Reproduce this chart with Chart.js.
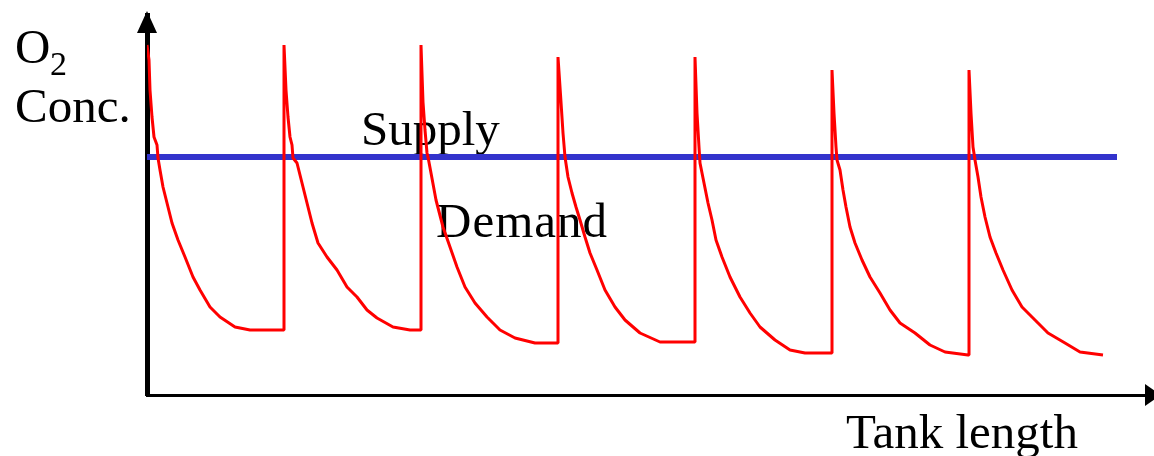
<!DOCTYPE html>
<html>
<head>
<meta charset="utf-8">
<script src="https://cdn.jsdelivr.net/npm/chart.js@4.4.1/dist/chart.umd.min.js"></script>
<style>
  body { margin: 0; background: #fff; }
  #wrap { width: 1154px; height: 456px; }
</style>
</head>
<body>
<div id="wrap"><canvas id="chart1"></canvas></div>
<script>
// tank length (x) and O2 concentration (y)
var demandX = [
    0, 2, 3, 5, 7, 10, 11, 13, 16, 20, 25, 31, 38, 46, 53, 63, 73, 88, 103, 136,
    137, 137, 139, 141, 143, 145, 146, 150, 155, 160, 165, 171, 180, 190, 200, 210, 220, 230, 246, 263, 273,
    274, 274, 276, 278, 280, 281, 284, 289, 296, 303, 310, 318, 328, 340, 353, 368, 388, 410,
    411, 411, 414, 416, 418, 421, 425, 429, 433, 438, 443, 450, 458, 468, 478, 493, 513, 547,
    548, 548, 550, 552, 553, 557, 561, 565, 569, 575, 583, 593, 603, 613, 628, 643, 658, 684,
    685, 685, 687, 689, 690, 693, 696, 699, 703, 708, 715, 723, 733, 743, 753, 768, 783, 798, 821,
    822, 822, 824, 826, 828, 831, 834, 838, 843, 849, 856, 865, 875, 888, 901, 918, 933, 956
];
var demandY = [
    350, 335, 305, 278, 258, 250, 237, 225, 208, 192, 172, 155, 138, 118, 105, 88, 78, 68, 65, 65,
    65, 350, 305, 278, 258, 250, 237, 232, 212, 192, 172, 152, 138, 125, 108, 98, 85, 77, 68, 65, 65,
    65, 350, 293, 265, 242, 238, 222, 195, 168, 148, 128, 108, 92, 78, 65, 57, 52, 52,
    52, 338, 293, 262, 238, 218, 202, 188, 175, 158, 142, 125, 105, 88, 75, 62, 53, 53,
    53, 338, 282, 248, 232, 212, 192, 175, 155, 138, 118, 98, 82, 68, 55, 45, 42, 42,
    42, 325, 282, 248, 235, 225, 205, 188, 168, 152, 135, 118, 102, 85, 72, 62, 50, 43, 40,
    40, 325, 282, 248, 235, 218, 198, 178, 158, 142, 125, 105, 88, 75, 62, 52, 43, 40
];
var supplyX = [0, 970];
var supplyY = [238, 238];

function toPoints(xs, ys) {
    return xs.map(function (x, i) { return { x: x, y: ys[i] }; });
}

var serif = "'Liberation Serif', 'Times New Roman', serif";

// labels and axis arrows
var decor = {
    id: 'decor',
    beforeDatasetsDraw: function (chart) {
        var ctx = chart.ctx;
        ctx.save();
        ctx.fillStyle = '#000';
        ctx.textBaseline = 'alphabetic';
        ctx.textAlign = 'left';
        ctx.font = '49px ' + serif;
        ctx.fillText('O', 15, 63);
        ctx.fillText('Conc.', 15, 122);
        ctx.fillText('Supply', 361, 145);
        ctx.fillText('Tank length', 846, 448);
        ctx.letterSpacing = '1px';
        ctx.fillText('Demand', 436, 237);
        ctx.letterSpacing = '0px';
        ctx.font = '34px ' + serif;
        ctx.fillText('2', 50, 75);
        ctx.restore();
    },
    afterDraw: function (chart) {
        var ctx = chart.ctx;
        var a = chart.chartArea;
        ctx.save();
        ctx.fillStyle = '#000';
        ctx.beginPath();
        ctx.moveTo(a.left - 10, a.top + 18);
        ctx.lineTo(a.left, a.top - 4);
        ctx.lineTo(a.left + 10, a.top + 18);
        ctx.closePath();
        ctx.fill();
        ctx.beginPath();
        ctx.moveTo(a.right - 2, a.bottom - 11);
        ctx.lineTo(a.right + 14, a.bottom);
        ctx.lineTo(a.right - 2, a.bottom + 11);
        ctx.closePath();
        ctx.fill();
        ctx.restore();
    }
};

var chart1 = document.getElementById('chart1').getContext('2d');
var myChart1 = new Chart(chart1, {
    type: 'line',
    data: {
        datasets: [{
            label: 'Demand',
            data: toPoints(demandX, demandY),
            borderColor: 'rgb(255, 0, 0)',
            borderWidth: 3,
            borderJoinStyle: 'bevel',
            pointRadius: 0,
            tension: 0,
            fill: false,
            order: 1
        }, {
            label: 'Supply',
            data: toPoints(supplyX, supplyY),
            borderColor: 'rgb(51, 51, 204)',
            borderWidth: 6,
            borderCapStyle: 'butt',
            pointRadius: 0,
            tension: 0,
            fill: false,
            order: 2
        }]
    },
    options: {
        responsive: true,
        maintainAspectRatio: false,
        animation: false,
        layout: {
            padding: { left: 147, right: 7, top: 15, bottom: 61 }
        },
        plugins: {
            legend: { display: false },
            tooltip: { enabled: false }
        },
        scales: {
            x: {
                type: 'linear',
                min: 0,
                max: 1000,
                grid: { display: false, drawTicks: false },
                ticks: { display: false },
                border: { display: true, color: '#000', width: 3 }
            },
            y: {
                type: 'linear',
                min: 0,
                max: 380,
                grid: { display: false, drawTicks: false },
                ticks: { display: false },
                border: { display: true, color: '#000', width: 5 }
            }
        }
    },
    plugins: [decor]
});
</script>
</body>
</html>
